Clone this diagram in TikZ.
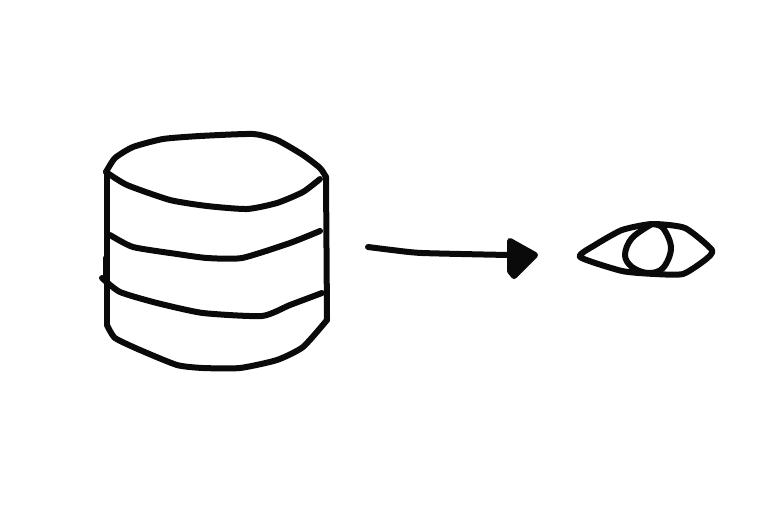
\documentclass[tikz,border=0pt]{standalone}
\def\stroke#1{
\draw [ink] plot [smooth,tension=0.35] coordinates {#1};
}
\tikzset{ink/.style={line width=6pt,line cap=round,line join=round,color=black!96}}

\begin{document}
\begin{tikzpicture}[x=1pt,y=-1pt]
    \useasboundingbox (0,0) rectangle (768,512);
    % barrel
    \stroke{(106,172) (115,158) (133,147) (163,139) (200,136) (253,134) (277,140) (303,155) (320,168) (326,177)}
    \stroke{(106,172) (127,185) (170,200) (207,206) (247,209) (277,203) (303,192) (320,179)}
    \stroke{(107,173) (107,325)}
    \stroke{(326,177) (327,320)}
    \stroke{(107,325) (115,338) (140,350) (177,365) (203,368) (240,368) (277,360) (303,347) (327,320)}
    \stroke{(110,235) (133,247) (177,254) (207,258) (242,258) (290,243) (320,231)}
    \stroke{(102,278) (120,292) (157,303) (203,313) (262,316) (290,305) (322,293)}
    \stroke{(106,258) (106,277)}
    % arrow
    \stroke{(368,247) (392,250) (422,253) (508,255)}
    \draw [ink,fill=black!96] (510,241) -- (535,255) -- (514,276) -- (510,271) -- cycle;
    % eye
    \draw [ink] plot [smooth cycle,tension=0.35] coordinates {(580,257) (595,245) (622,230) (652,224) (685,228) (712,250) (705,260) (683,274) (655,274) (622,271)};
    \draw [ink] plot [smooth,tension=0.6] coordinates {(652,224) (632,238) (625,255) (632,267) (648,273) (663,268) (671,248) (663,228) (652,224)};
\end{tikzpicture}
\end{document}
